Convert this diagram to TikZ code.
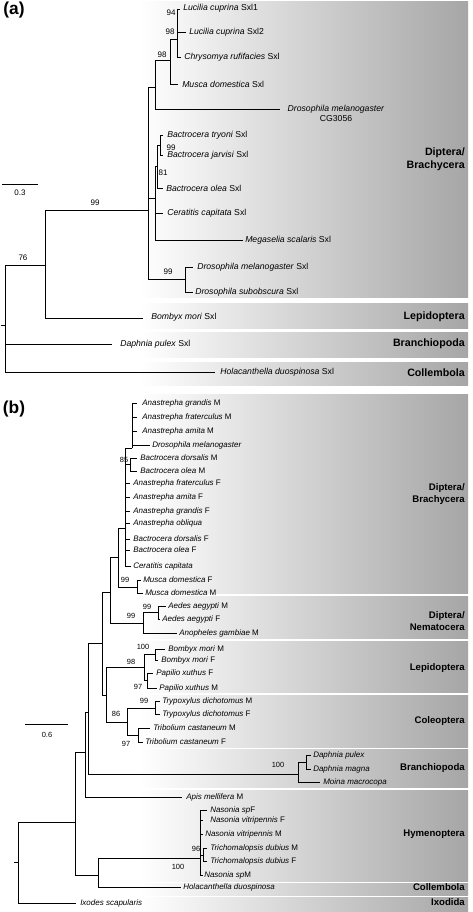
\documentclass[tikz,border=0pt]{standalone}
\usepackage{fontspec}
\setmainfont{Liberation Sans}
\begin{document}
\begin{tikzpicture}[x=0.75pt,y=-0.75pt,
  br/.style={line width=0.6pt},
  tipa/.style={anchor=west,inner sep=0pt,font=\fontsize{6.5}{7.5}\selectfont},
  tipb/.style={anchor=west,inner sep=0pt,font=\fontsize{6}{7}\selectfont},
  bsa/.style={inner sep=0pt,font=\fontsize{6}{7}\selectfont},
  bsb/.style={inner sep=0pt,font=\fontsize{5.6}{7}\selectfont},
  grpa/.style={anchor=east,inner sep=0pt,align=right,font=\fontsize{8}{9.5}\selectfont\bfseries},
  grpb/.style={anchor=east,inner sep=0pt,align=right,font=\fontsize{7.2}{9}\selectfont\bfseries},
  band/.style={left color=white,right color=black!35,draw=none},
  panel/.style={inner sep=0pt,font=\fontsize{13}{15}\selectfont\bfseries}]
\useasboundingbox (0,0) rectangle (472,912);
\fill[white] (0,0) rectangle (472,912);

% ---------- bands (a)
\shade[band] (140,2) rectangle (468,298);
\shade[band] (140,304) rectangle (468,329);
\shade[band] (140,333) rectangle (468,357);
\shade[band] (140,362) rectangle (468,385);
% ---------- bands (b)
\shade[band] (140,394) rectangle (468,593);
\shade[band] (140,596) rectangle (468,638);
\shade[band] (140,641) rectangle (468,692);
\shade[band] (140,695) rectangle (468,747);
\shade[band] (140,749) rectangle (468,787);
\shade[band] (140,790) rectangle (468,881);
\shade[band] (140,883) rectangle (468,895);
\shade[band] (140,897) rectangle (468,912);

% ---------- panel labels
\node[panel] (pa) at (14,10) {(a)};
\node[panel] (pb) at (14,409) {(b)};

% ---------- group labels (a)
\node[grpa] (ga1) at (465,159) {Diptera/\\Brachycera};
\node[grpa] (ga2) at (465,317) {Lepidoptera};
\node[grpa] (ga3) at (465,344) {Branchiopoda};
\node[grpa] (ga4) at (465,373) {Collembola};
% ---------- group labels (b)
\node[grpb] (gb1) at (465,494) {Diptera/\\Brachycera};
\node[grpb] (gb2) at (465,621) {Diptera/\\Nematocera};
\node[grpb] (gb3) at (465,668) {Lepidoptera};
\node[grpb] (gb4) at (465,721) {Coleoptera};
\node[grpb] (gb5) at (465,768) {Branchiopoda};
\node[grpb] (gb6) at (465,834) {Hymenoptera};
\node[grpb] (gb7) at (465,887) {Collembola};
\node[grpb] (gb8) at (465,902) {Ixodida};

% ================= tree (a)
\coordinate (a1) at (177,39);
\coordinate (a2) at (170,60);
\coordinate (a3) at (155,87);
\coordinate (a4) at (148,210);
\coordinate (a5) at (155,198);
\coordinate (a7) at (157,166);
\coordinate (a8) at (160,145);
\coordinate (a6) at (185,279);
\coordinate (a9) at (45,265);
\coordinate (a10) at (5,325);
\coordinate (ar) at (1,325);
\coordinate (ta1) at (180,9);
\coordinate (ta2) at (186,32);
\coordinate (ta3) at (181,57);
\coordinate (ta4) at (178,84);
\coordinate (ta5) at (280,109);
\coordinate (ta6) at (163,135);
\coordinate (ta7) at (163,155);
\coordinate (ta8) at (163,188);
\coordinate (ta9) at (163,213);
\coordinate (ta10) at (243,240);
\coordinate (ta11) at (193,267);
\coordinate (ta12) at (193,292);
\coordinate (ta13) at (143,318);
\coordinate (ta14) at (112,344);
\coordinate (ta15) at (215,372);

\foreach \p/\c in {a1/ta1,a1/ta2,a1/ta3,a2/a1,a2/ta4,a3/a2,a3/ta5,
  a4/a3,a4/a5,a4/a6,a5/a7,a5/ta9,a5/ta10,a7/a8,a7/ta8,a8/ta6,a8/ta7,
  a6/ta11,a6/ta12,a9/a4,a9/ta13,a10/a9,a10/ta14,a10/ta15}
  \draw[br] (\p) |- (\c);
\draw[br] (ar) -- (a10);

\node[tipa] (la1) at (183,8) {\textit{Lucilia cuprina} Sxl1};
\node[tipa] (la2) at (189,32) {\textit{Lucilia cuprina} Sxl2};
\node[tipa] (la3) at (184,57) {\textit{Chrysomya rufifacies} Sxl};
\node[tipa] (la4) at (182,84) {\textit{Musca domestica} Sxl};
\node[tipa,anchor=center,align=center] (la5) at (336,113) {\textit{Drosophila melanogaster}\\CG3056};
\node[tipa] (la6) at (167,135) {\textit{Bactrocera tryoni} Sxl};
\node[tipa] (la7) at (167,155) {\textit{Bactrocera jarvisi} Sxl};
\node[tipa] (la8) at (166,188) {\textit{Bactrocera olea} Sxl};
\node[tipa] (la9) at (167,213) {\textit{Ceratitis capitata} Sxl};
\node[tipa] (la10) at (245,240) {\textit{Megaselia scalaris} Sxl};
\node[tipa] (la11) at (197,267) {\textit{Drosophila melanogaster} Sxl};
\node[tipa] (la12) at (195,292) {\textit{Drosophila subobscura} Sxl};
\node[tipa] (la13) at (151,317) {\textit{Bombyx mori} Sxl};
\node[tipa] (la14) at (120,344) {\textit{Daphnia pulex} Sxl};
\node[tipa] (la15) at (220,372) {\textit{Holacanthella duospinosa} Sxl};

\node[bsa] (sa1) at (171,13) {94};
\node[bsa] (sa2) at (170,32) {98};
\node[bsa] (sa3) at (162,55) {98};
\node[bsa] (sa4) at (171,148) {99};
\node[bsa] (sa5) at (163,173) {81};
\node[bsa] (sa6) at (95,203) {99};
\node[bsa] (sa7) at (168,272) {99};
\node[bsa] (sa8) at (23,258) {76};

% scale bar (a)
\coordinate (sba1) at (2,184);
\coordinate (sba2) at (38,184);
\draw[br] (sba1) -- (sba2);
\node[bsa] (sbat) at (20,193) {0.3};

% ================= tree (b)
\coordinate (b1) at (132,448);
\coordinate (b2) at (125,528);
\coordinate (b3) at (130,464);
\coordinate (b4) at (118,557);
\coordinate (b5) at (137,587);
\coordinate (b6) at (110,592);
\coordinate (b7) at (143,623);
\coordinate (b8) at (158,612);
\coordinate (b9) at (102,643);
\coordinate (b10) at (106,695);
\coordinate (b11) at (144,667);
\coordinate (b12) at (127,722);
\coordinate (b13) at (155,654);
\coordinate (b14) at (147,680);
\coordinate (b15) at (155,708);
\coordinate (b16) at (138,735);
\coordinate (b17) at (88,712);
\coordinate (b18) at (298,774);
\coordinate (b19) at (306,762);
\coordinate (b20) at (85,752);
\coordinate (b21) at (75,822);
\coordinate (b22) at (98,875);
\coordinate (b23) at (200,858);
\coordinate (b24) at (203,855);
\coordinate (b25) at (18,862);
\coordinate (br0) at (14,862);

\coordinate (tb1) at (137,403);
\coordinate (tb2) at (137,417);
\coordinate (tb3) at (137,431);
\coordinate (tb4) at (150,445);
\coordinate (tb5) at (137,458);
\coordinate (tb6) at (137,471);
\coordinate (tb7) at (130,483);
\coordinate (tb8) at (130,497);
\coordinate (tb9) at (130,511);
\coordinate (tb10) at (130,523);
\coordinate (tb11) at (130,539);
\coordinate (tb12) at (130,550);
\coordinate (tb13) at (131,566);
\coordinate (tb14) at (141,580);
\coordinate (tb15) at (143,593);
\coordinate (tb16) at (166,606);
\coordinate (tb17) at (160,619);
\coordinate (tb18) at (177,633);
\coordinate (tb19) at (165,649);
\coordinate (tb20) at (158,660);
\coordinate (tb21) at (153,673);
\coordinate (tb22) at (157,688);
\coordinate (tb23) at (160,701);
\coordinate (tb24) at (160,714);
\coordinate (tb25) at (150,728);
\coordinate (tb26) at (143,742);
\coordinate (tb27) at (311,755);
\coordinate (tb28) at (311,769);
\coordinate (tb29) at (320,782);
\coordinate (tb30) at (182,797);
\coordinate (tb31) at (207,810);
\coordinate (tb32) at (203,820);
\coordinate (tb33) at (203,834);
\coordinate (tb34) at (207,848);
\coordinate (tb35) at (207,861);
\coordinate (tb36) at (203,875);
\coordinate (tb37) at (181,887);
\coordinate (tb38) at (76,903);

\foreach \p/\c in {b1/tb1,b1/tb2,b1/tb3,b1/tb4,
  b2/b1,b2/b3,b2/tb7,b2/tb8,b2/tb9,b2/tb10,b2/tb11,b2/tb12,b2/tb13,
  b3/tb5,b3/tb6,b4/b2,b4/b5,b5/tb14,b5/tb15,b6/b4,b6/b7,b7/b8,b7/tb18,
  b8/tb16,b8/tb17,b9/b6,b9/b10,b10/b11,b10/b12,b11/b13,b11/b14,
  b13/tb19,b13/tb20,b14/tb21,b14/tb22,b12/b15,b12/b16,b15/tb23,b15/tb24,
  b16/tb25,b16/tb26,b17/b9,b17/b18,b18/b19,b18/tb29,b19/tb27,b19/tb28,
  b20/b17,b20/tb30,b21/b20,b21/b22,b22/b23,b22/tb37,
  b23/tb31,b23/tb32,b23/tb33,b23/b24,b23/tb36,b24/tb34,b24/tb35,
  b25/b21,b25/tb38}
  \draw[br] (\p) |- (\c);
\draw[br] (br0) -- (b25);

\node[tipb] (lb1) at (142,403) {\textit{Anastrepha grandis} M};
\node[tipb] (lb2) at (142,417) {\textit{Anastrepha fraterculus} M};
\node[tipb] (lb3) at (142,431) {\textit{Anastrepha amita} M};
\node[tipb] (lb4) at (152,445) {\textit{Drosophila melanogaster}};
\node[tipb] (lb5) at (140,458) {\textit{Bactrocera dorsalis} M};
\node[tipb] (lb6) at (140,471) {\textit{Bactrocera olea} M};
\node[tipb] (lb7) at (133,483) {\textit{Anastrepha fraterculus} F};
\node[tipb] (lb8) at (133,497) {\textit{Anastrepha amita} F};
\node[tipb] (lb9) at (133,511) {\textit{Anastrepha grandis} F};
\node[tipb] (lb10) at (133,523) {\textit{Anastrepha obliqua}};
\node[tipb] (lb11) at (133,539) {\textit{Bactrocera dorsalis} F};
\node[tipb] (lb12) at (133,550) {\textit{Bactrocera olea} F};
\node[tipb] (lb13) at (133,566) {\textit{Ceratitis capitata}};
\node[tipb] (lb14) at (143,580) {\textit{Musca domestica} F};
\node[tipb] (lb15) at (145,593) {\textit{Musca domestica} M};
\node[tipb] (lb16) at (168,606) {\textit{Aedes aegypti} M};
\node[tipb] (lb17) at (162,619) {\textit{Aedes aegypti} F};
\node[tipb] (lb18) at (179,633) {\textit{Anopheles gambiae} M};
\node[tipb] (lb19) at (168,649) {\textit{Bombyx mori} M};
\node[tipb] (lb20) at (161,660) {\textit{Bombyx mori} F};
\node[tipb] (lb21) at (156,673) {\textit{Papilio xuthus} F};
\node[tipb] (lb22) at (159,688) {\textit{Papilio xuthus} M};
\node[tipb] (lb23) at (162,701) {\textit{Trypoxylus dichotomus} M};
\node[tipb] (lb24) at (162,714) {\textit{Trypoxylus dichotomus} F};
\node[tipb] (lb25) at (153,728) {\textit{Tribolium castaneum} M};
\node[tipb] (lb26) at (145,742) {\textit{Tribolium castaneum} F};
\node[tipb] (lb27) at (313,755) {\textit{Daphnia pulex}};
\node[tipb] (lb28) at (313,769) {\textit{Daphnia magna}};
\node[tipb] (lb29) at (323,782) {\textit{Moina macrocopa}};
\node[tipb] (lb30) at (186,797) {\textit{Apis mellifera} M};
\node[tipb] (lb31) at (210,810) {\textit{Nasonia sp}F};
\node[tipb] (lb32) at (210,820) {\textit{Nasonia vitripennis} F};
\node[tipb] (lb33) at (205,834) {\textit{Nasonia vitripennis} M};
\node[tipb] (lb34) at (210,848) {\textit{Trichomalopsis dubius} M};
\node[tipb] (lb35) at (210,861) {\textit{Trichomalopsis dubius} F};
\node[tipb] (lb36) at (204,875) {\textit{Nasonia sp}M};
\node[tipb] (lb37) at (183,887) {\textit{Holacanthella duospinosa}};
\node[tipb] (lb38) at (80,903) {\textit{Ixodes scapularis}};

\node[bsb] (sb1) at (124,460) {85};
\node[bsb] (sb2) at (125,580) {99};
\node[bsb] (sb3) at (147,607) {99};
\node[bsb] (sb4) at (131,616) {99};
\node[bsb] (sb5) at (143,647) {100};
\node[bsb] (sb6) at (131,662) {98};
\node[bsb] (sb7) at (138,687) {97};
\node[bsb] (sb8) at (144,701) {99};
\node[bsb] (sb9) at (116,714) {86};
\node[bsb] (sb10) at (126,744) {97};
\node[bsb] (sb11) at (278,765) {100};
\node[bsb] (sb12) at (196,849) {96};
\node[bsb] (sb13) at (178,867) {100};

% scale bar (b)
\coordinate (sbb1) at (25,724);
\coordinate (sbb2) at (68,724);
\draw[br] (sbb1) -- (sbb2);
\node[bsb] (sbbt) at (47,735) {0.6};
\end{tikzpicture}
\end{document}
